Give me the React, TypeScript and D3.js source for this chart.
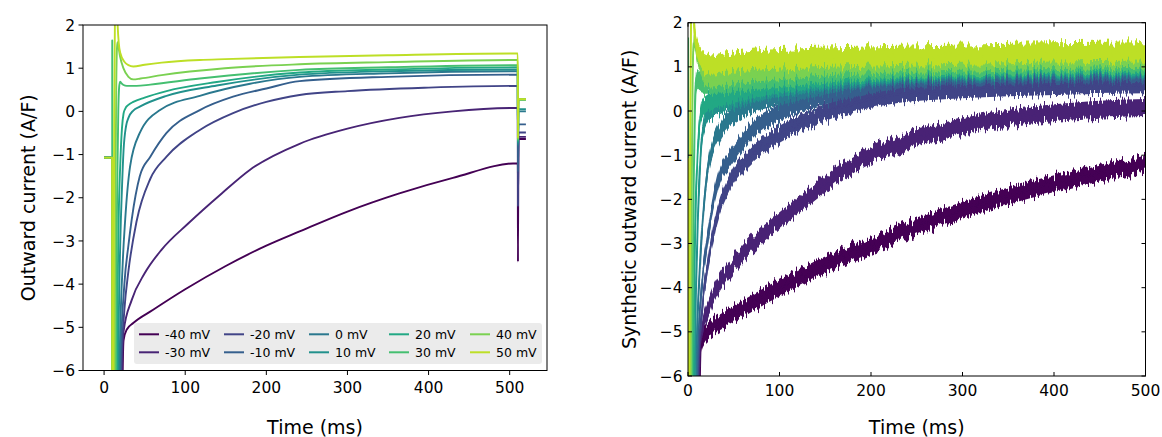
import React from "react";
import * as d3 from "d3";

type P = [number, number];

const VOLTAGES = [-40, -30, -20, -10, 0, 10, 20, 30, 40, 50];
const X_TICKS = [0, 100, 200, 300, 400, 500];
const Y_TICKS = [-6, -5, -4, -3, -2, -1, 0, 1, 2];

// Simulated outward current traces (time ms, current A/F)
const TRACE_M40: P[] = [[0, -1.07], [10, -1.07], [10.1, -20], [22.5, -8], [23, -6], [24, -5.3], [28, -5.05], [36, -4.9], [60, -4.6], [100, -4.12], [150, -3.58], [200, -3.11], [241, -2.78], [300, -2.32], [364, -1.9], [430, -1.54], [510, -1.2]];
const TRACE_M30: P[] = [[0, -1.07], [10, -1.07], [10.1, -20], [21.5, -8], [22, -6], [24, -5.1], [34, -4.37], [50, -3.75], [71, -3.2], [104, -2.59], [145, -1.9], [180, -1.35], [241, -0.75], [300, -0.4], [364, -0.15], [430, 0.0], [510, 0.08]];
const TRACE_M20: P[] = [[0, -1.07], [10, -1.07], [10.1, -20], [20.5, -8], [21, -6], [25, -4.6], [30, -3.7], [40, -2.55], [57, -1.56], [77, -1.05], [118, -0.43], [159, -0.04], [200, 0.22], [241, 0.38], [300, 0.47], [400, 0.55], [510, 0.59]];
const TRACE_M10: P[] = [[0, -1.07], [10, -1.07], [10.1, -20], [19.5, -8], [20, -6], [25, -4], [30, -3.1], [34, -2.51], [44, -1.5], [57, -1.05], [77, -0.5], [118, 0.03], [159, 0.34], [200, 0.53], [241, 0.7], [350, 0.8], [510, 0.85]];
const TRACE_0: P[] = [[0, -1.07], [10, -1.07], [10.1, -20], [18.5, -8], [19, -6], [23, -3.5], [26, -2.51], [32, -1.28], [44, -0.5], [69, 0.03], [118, 0.36], [180, 0.64], [241, 0.8], [350, 0.88], [510, 0.93]];
const TRACE_10: P[] = [[0, -1.07], [10, -1.07], [10.1, -20], [17, -8], [17.5, -6], [20, -3], [22, -1.8], [24, -0.9], [27, -0.35], [30, -0.15], [36, 0.02], [44, 0.11], [77, 0.36], [139, 0.6], [241, 0.85], [350, 0.93], [510, 0.97]];
const TRACE_20: P[] = [[0, -1.07], [10, -1.07], [10.1, -20], [15.5, -8], [16, -6], [18, -2.51], [20, -1.2], [22, -0.4], [24, -0.05], [26, 0.06], [30, 0.15], [36, 0.22], [50, 0.32], [77, 0.47], [139, 0.68], [241, 0.9], [350, 0.97], [510, 1.02]];
const TRACE_30: P[] = [[0, -1.07], [10, -1.07], [10.05, 1.64], [10.1, -20], [14, -8], [14.5, -6], [16, -2], [17.5, 0], [18.5, 0.55], [19.7, 0.69], [21, 0.66], [24, 0.61], [28, 0.59], [40, 0.59], [57, 0.62], [118, 0.76], [241, 0.96], [350, 1.02], [510, 1.07]];
const TRACE_40: P[] = [[0, -1.07], [10, -1.07], [10.1, -20], [12.5, -8], [13, -6], [14, -2], [15, 0.6], [16, 1.5], [16.7, 1.6], [17.5, 1.52], [19.7, 1.27], [23.8, 1.0], [30, 0.8], [36, 0.74], [45, 0.76], [71, 0.84], [149, 1.0], [241, 1.09], [350, 1.14], [510, 1.19]];
const TRACE_50: P[] = [[0, -1.07], [10, -1.07], [10.1, -20], [11, -8], [11.5, -6], [12.5, 0], [13.5, 2.5], [14.5, 2.8], [15.8, 2.5], [16.8, 1.96], [18, 1.6], [20, 1.35], [25, 1.15], [30, 1.07], [36, 1.04], [50, 1.08], [71, 1.13], [118, 1.19], [149, 1.21], [241, 1.26], [350, 1.3], [510, 1.34]];
const TRACES = [TRACE_M40, TRACE_M30, TRACE_M20, TRACE_M10, TRACE_0, TRACE_10, TRACE_20, TRACE_30, TRACE_40, TRACE_50];

// Repolarisation step at t = 510 ms
const STEP_DOWN_MIN = [-3.48, -2.2, -2.2, -1.4, -0.8, -0.75, -0.7, -0.68, -0.65, -0.62];
const TAIL_VALUE = [-0.64, -0.59, -0.49, -0.3, 0.0, 0.05, 0.27, 0.28, 0.28, 0.28];
const TAIL_TIMES = [510.2, 510.8, 520];

// Synthetic panel: same traces shifted to the step onset, drawn as noisy bands
const SYNTH_SHIFT = 10;
const NOISE_HALF = [0.19, 0.19, 0.19, 0.19, 0.19, 0.19, 0.2, 0.2, 0.21, 0.22];

const FONT = "DejaVu Sans, sans-serif";
const colorOf = (i: number) => d3.interpolateViridis(i / 10);

export default function App() {
  const W = 1162, H = 437;
  const lx = d3.scaleLinear().domain([-26, 546]).range([83, 547]);
  const ly = d3.scaleLinear().domain([-6, 2]).range([370.5, 25]);
  const rx = d3.scaleLinear().domain([0, 500]).range([688, 1145.5]);
  const ry = d3.scaleLinear().domain([-6, 2]).range([376, 22.7]);
  const fmt = d3.format("d");

  const fullTraces: P[][] = TRACES.map((tr, i) => [
    ...tr,
    [TAIL_TIMES[0], STEP_DOWN_MIN[i]] as P,
    [TAIL_TIMES[1], TAIL_VALUE[i]] as P,
    [TAIL_TIMES[2], TAIL_VALUE[i]] as P,
  ]);

  const leftLine = d3
    .line<P>()
    .x((d) => lx(d[0]))
    .y((d) => ly(d[1]))
    .curve(d3.curveMonotoneX);

  const synth: P[][] = TRACES.map((tr) =>
    tr.map((d) => [d[0] - SYNTH_SHIFT, d[1]] as P).filter((d) => d[0] >= 0 && d[0] <= 500)
  );
  const rightLine = d3
    .line<P>()
    .x((d) => rx(d[0]))
    .y((d) => ry(d[1]))
    .curve(d3.curveMonotoneX);
  const band = (h: number) =>
    d3
      .area<P>()
      .x((d) => rx(d[0]))
      .y0((d) => ry(d[1] - h))
      .y1((d) => ry(d[1] + h))
      .curve(d3.curveMonotoneX);

  const [lx0, lx1] = lx.range();
  const [ly0, ly1] = ly.range();
  const [rx0, rx1] = rx.range();
  const [ry0, ry1] = ry.range();

  const legCols = [139, 224, 309, 389, 470];
  const legRows = [334.3, 352.3];

  return (
    <svg
      width={W}
      height={H}
      style={{ position: "absolute", left: 0, top: 0, background: "#fff" }}
      fontFamily={FONT}
    >
      <defs>
        <clipPath id="clipL">
          <rect x={lx0} y={ly1} width={lx1 - lx0} height={ly0 - ly1} />
        </clipPath>
        <clipPath id="clipR">
          <rect x={rx0} y={ry1} width={rx1 - rx0} height={ry0 - ry1} />
        </clipPath>
        {/* visual jitter texture for the noisy recordings (rendering effect only) */}
        <filter id="jitter" filterUnits="userSpaceOnUse" x={rx0 - 10} y={ry1 - 20} width={rx1 - rx0 + 20} height={ry0 - ry1 + 40}>
          <feTurbulence type="fractalNoise" baseFrequency="0.5 0.01" numOctaves={2} seed={7} result="noise" />
          <feComponentTransfer in="noise" result="vnoise">
            <feFuncR type="linear" slope={0} intercept={0.5} />
          </feComponentTransfer>
          <feDisplacementMap in="SourceGraphic" in2="vnoise" scale={18} xChannelSelector="R" yChannelSelector="G" />
        </filter>
      </defs>

      {/* ---------- Left panel ---------- */}
      <g clipPath="url(#clipL)">
        {fullTraces.map((tr, i) => (
          <path key={i} d={leftLine(tr) || ""} fill="none" stroke={colorOf(i)} strokeWidth={1.9} strokeLinejoin="round" />
        ))}
      </g>
      <rect x={lx0} y={ly1} width={lx1 - lx0} height={ly0 - ly1} fill="none" stroke="#000" strokeWidth={1} />
      {Y_TICKS.map((t) => (
        <g key={"ly" + t}>
          <line x1={lx0 - 4.5} x2={lx0} y1={ly(t)} y2={ly(t)} stroke="#000" strokeWidth={1} />
          <text x={lx0 - 8} y={ly(t)} dy="0.36em" textAnchor="end" fontSize={15.5} fill="#000">
            {fmt(t)}
          </text>
        </g>
      ))}
      {X_TICKS.map((t) => (
        <g key={"lx" + t}>
          <line x1={lx(t)} x2={lx(t)} y1={ly0} y2={ly0 + 4.5} stroke="#000" strokeWidth={1} />
          <text x={lx(t)} y={393.3} textAnchor="middle" fontSize={15.5} fill="#000">
            {fmt(t)}
          </text>
        </g>
      ))}
      <text x={(lx0 + lx1) / 2} y={433.5} textAnchor="middle" fontSize={19} fill="#000">
        Time (ms)
      </text>
      <text transform={`translate(35,${(ly0 + ly1) / 2}) rotate(-90)`} textAnchor="middle" fontSize={19} fill="#000">
        Outward current (A/F)
      </text>

      {/* legend */}
      <rect x={134} y={323} width={408} height={41} rx={3} fill="#ebebeb" />
      {VOLTAGES.map((v, i) => {
        const c = Math.floor(i / 2);
        const r = i % 2;
        const x = legCols[c];
        const y = legRows[r];
        return (
          <g key={"leg" + v}>
            <line x1={x} x2={x + 20} y1={y} y2={y} stroke={colorOf(i)} strokeWidth={2} />
            <text x={x + 26} y={y} dy="0.36em" fontSize={12.5} fill="#000">
              {`${v} mV`}
            </text>
          </g>
        );
      })}

      {/* ---------- Right panel ---------- */}
      <g clipPath="url(#clipR)">
        <g filter="url(#jitter)">
          {synth.map((tr, i) => (
            <g key={i}>
              <path d={band(NOISE_HALF[i])(tr) || ""} fill={colorOf(i)} stroke="none" />
              <path d={rightLine(tr) || ""} fill="none" stroke={colorOf(i)} strokeWidth={2} />
            </g>
          ))}
        </g>
      </g>
      <rect x={rx0} y={ry1} width={rx1 - rx0} height={ry0 - ry1} fill="none" stroke="#000" strokeWidth={1} />
      {Y_TICKS.map((t) => (
        <g key={"ry" + t}>
          <line x1={rx0} x2={rx0 + 4} y1={ry(t)} y2={ry(t)} stroke="#000" strokeWidth={1} />
          <line x1={rx1 - 4} x2={rx1} y1={ry(t)} y2={ry(t)} stroke="#000" strokeWidth={1} />
          <text x={rx0 - 5.5} y={ry(t)} dy="0.36em" textAnchor="end" fontSize={15.5} fill="#000">
            {fmt(t)}
          </text>
        </g>
      ))}
      {X_TICKS.map((t) => (
        <g key={"rx" + t}>
          <line x1={rx(t)} x2={rx(t)} y1={ry0 - 4} y2={ry0} stroke="#000" strokeWidth={1} />
          <line x1={rx(t)} x2={rx(t)} y1={ry1} y2={ry1 + 4} stroke="#000" strokeWidth={1} />
          <text x={rx(t)} y={395.7} textAnchor="middle" fontSize={15.5} fill="#000">
            {fmt(t)}
          </text>
        </g>
      ))}
      <text x={(rx0 + rx1) / 2} y={433.5} textAnchor="middle" fontSize={19} fill="#000">
        Time (ms)
      </text>
      <text transform={`translate(636,${(ry0 + ry1) / 2}) rotate(-90)`} textAnchor="middle" fontSize={19} fill="#000">
        Synthetic outward current (A/F)
      </text>
    </svg>
  );
}
